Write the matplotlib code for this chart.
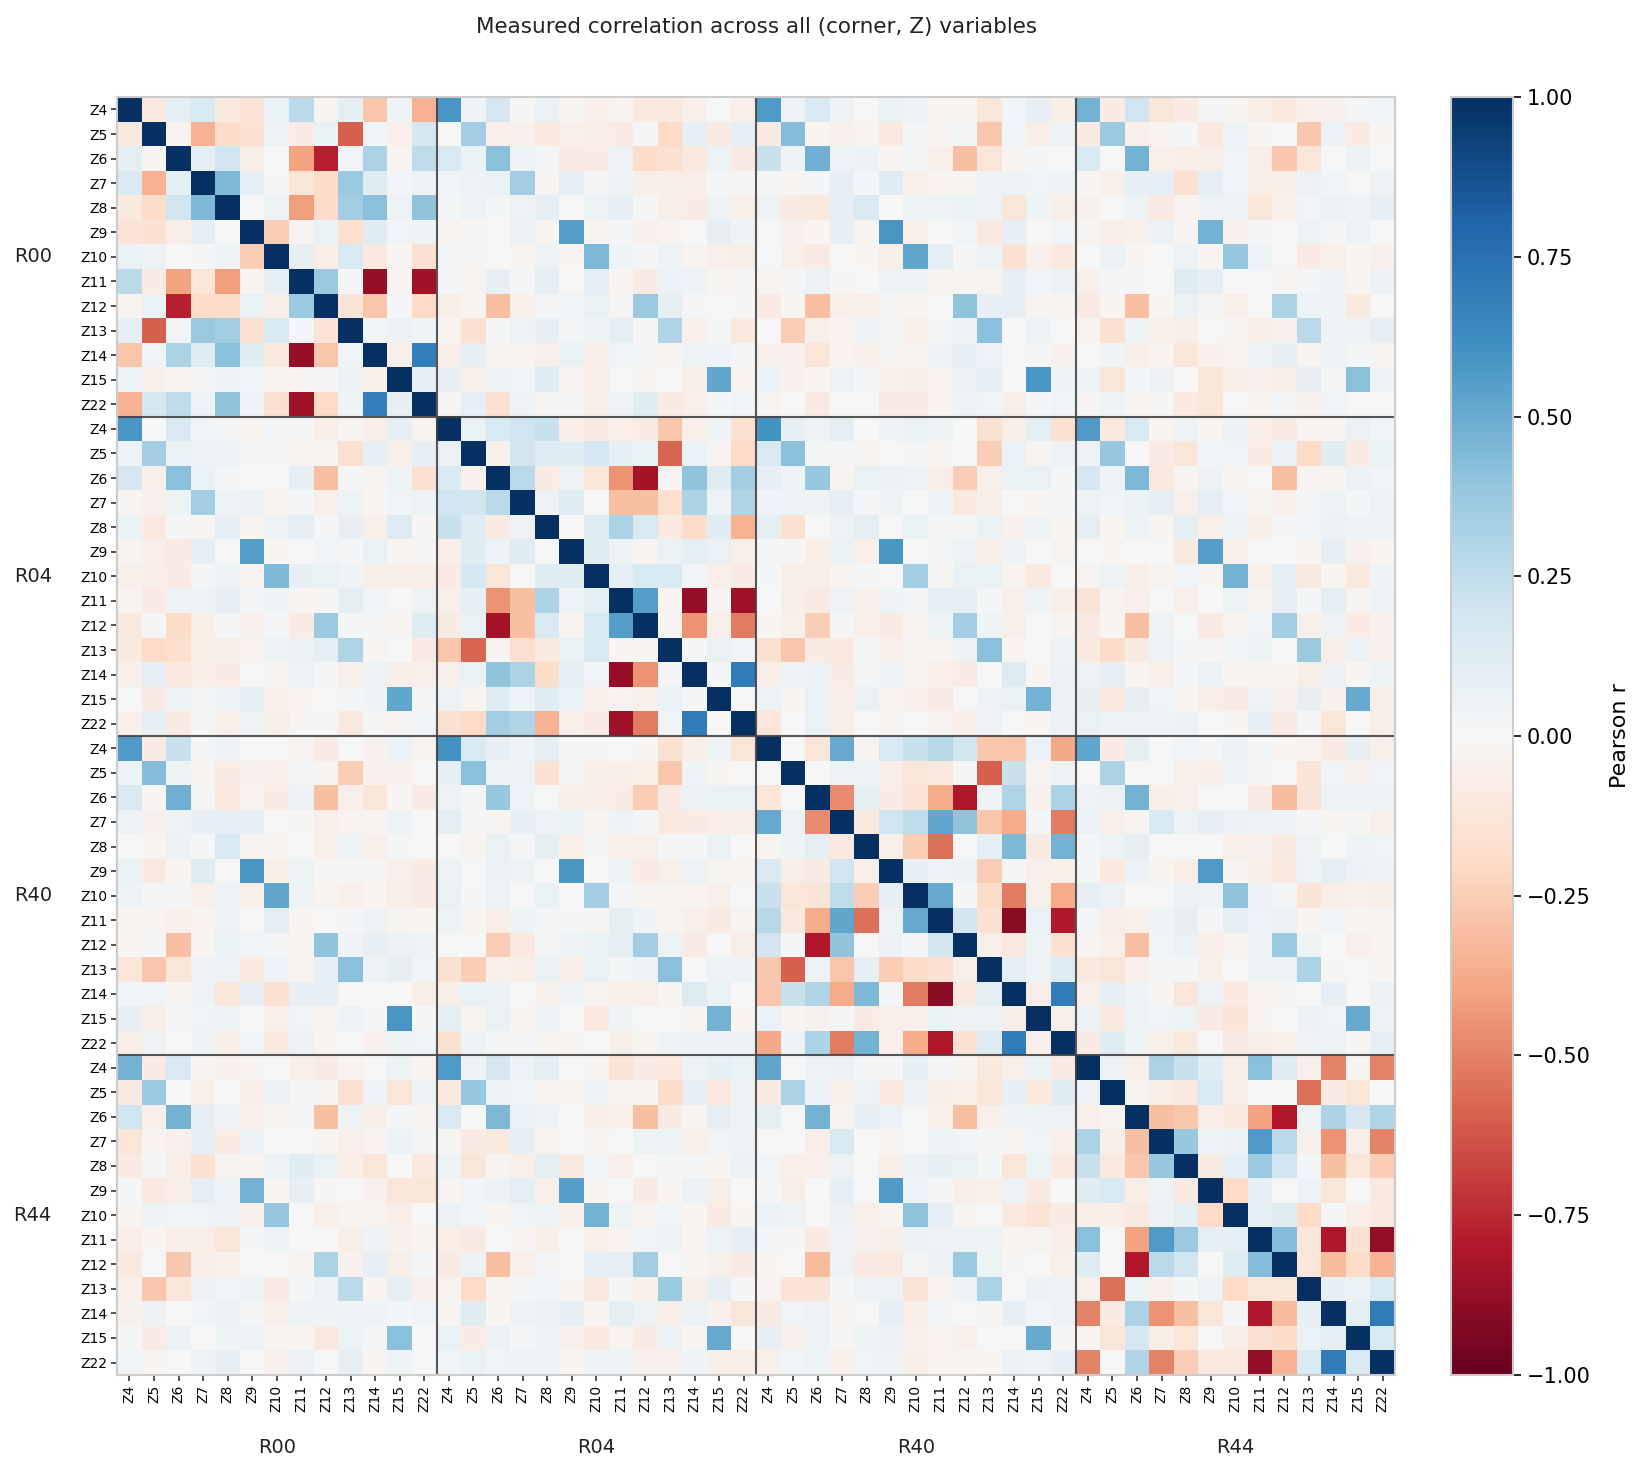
import numpy as np
import matplotlib
matplotlib.use("Agg")
import matplotlib.pyplot as plt

corners = ["R00", "R04", "R40", "R44"]
zterms = ["Z4", "Z5", "Z6", "Z7", "Z8", "Z9", "Z10", "Z11", "Z12", "Z13", "Z14", "Z15", "Z22"]

# within-corner correlations, lower triangle (row i holds cols 0..i-1)
r00_tri = [
    [],
    [-0.10],
    [0.10, -0.03],
    [0.15, -0.35, 0.10],
    [-0.10, -0.18, 0.20, 0.45],
    [-0.13, -0.15, -0.07, 0.10, 0.00],
    [0.07, 0.05, 0.00, 0.02, 0.05, -0.25],
    [0.27, -0.08, -0.40, -0.12, -0.42, -0.03, 0.08],
    [-0.03, 0.07, -0.78, -0.18, -0.18, 0.07, -0.07, 0.37],
    [0.10, -0.60, 0.03, 0.37, 0.35, -0.17, 0.15, 0.02, -0.13],
    [-0.28, 0.03, 0.32, 0.12, 0.42, 0.12, -0.10, -0.87, -0.28, 0.03],
    [0.05, -0.05, -0.03, 0.02, 0.05, 0.03, -0.02, -0.02, 0.02, 0.06, -0.05],
    [-0.35, 0.17, 0.25, 0.05, 0.40, 0.04, -0.15, -0.85, -0.20, 0.04, 0.68, 0.08],
]
r04_tri = [
    [],
    [0.07],
    [0.15, -0.04],
    [0.20, 0.18, 0.27],
    [0.22, 0.13, -0.08, 0.05],
    [-0.07, 0.12, 0.05, 0.12, 0.00],
    [-0.08, 0.17, -0.12, 0.00, 0.12, 0.12],
    [-0.05, 0.08, -0.45, -0.30, 0.32, 0.05, 0.10],
    [-0.08, 0.07, -0.83, -0.30, 0.15, -0.03, 0.15, 0.55],
    [-0.28, -0.58, -0.03, -0.17, -0.10, 0.07, 0.15, -0.02, -0.03],
    [-0.05, 0.07, 0.40, 0.32, -0.18, 0.10, 0.03, -0.87, -0.45, 0.02],
    [0.05, -0.03, 0.12, 0.05, 0.12, 0.07, -0.05, -0.03, -0.05, 0.07, 0.01],
    [-0.15, -0.20, 0.35, 0.30, -0.35, -0.05, -0.08, -0.85, -0.52, 0.03, 0.70, 0.00],
]
r40_tri = [
    [],
    [0.00],
    [-0.12, 0.00],
    [0.50, 0.05, -0.47],
    [-0.03, 0.04, 0.10, -0.10],
    [0.15, -0.07, -0.08, 0.20, -0.05],
    [0.22, -0.12, -0.13, 0.25, -0.25, 0.08],
    [0.28, -0.10, -0.37, 0.52, -0.55, 0.04, 0.50],
    [0.18, 0.02, -0.80, 0.40, 0.00, 0.06, 0.02, 0.18],
    [-0.27, -0.60, 0.05, -0.28, 0.08, -0.25, -0.18, -0.15, -0.05],
    [-0.28, 0.22, 0.30, -0.37, 0.45, 0.02, -0.52, -0.90, -0.10, 0.10],
    [0.07, -0.03, -0.04, 0.02, -0.08, -0.05, -0.05, 0.07, 0.05, 0.05, -0.07],
    [-0.38, 0.05, 0.32, -0.52, 0.47, -0.05, -0.37, -0.80, -0.15, 0.13, 0.70, -0.05],
]
r44_tri = [
    [],
    [0.05],
    [-0.05, -0.03],
    [0.32, -0.07, -0.30],
    [0.22, -0.10, -0.27, 0.38],
    [0.12, 0.15, -0.07, 0.05, -0.08],
    [-0.07, -0.07, -0.10, 0.06, 0.10, -0.20],
    [0.42, 0.00, -0.40, 0.57, 0.37, 0.08, 0.10],
    [0.12, 0.00, -0.80, 0.27, 0.20, 0.00, 0.12, 0.43],
    [-0.05, -0.55, 0.05, -0.04, 0.02, 0.05, -0.20, -0.12, -0.12],
    [-0.50, -0.08, 0.32, -0.45, -0.30, -0.12, 0.02, -0.80, -0.32, 0.08],
    [-0.03, -0.12, 0.17, -0.07, -0.12, 0.00, -0.07, -0.15, -0.18, 0.07, 0.10],
    [-0.50, 0.00, 0.30, -0.50, -0.25, -0.10, -0.10, -0.88, -0.35, 0.15, 0.70, 0.15],
]

# cross-corner correlations: rows = first corner, cols = second corner
r04_r00 = [
    [0.58, 0.00, 0.15, 0.03, 0.02, -0.03, 0.01, 0.01, -0.07, -0.03, -0.07, 0.08, -0.03],
    [0.05, 0.35, 0.07, 0.05, 0.05, -0.01, -0.01, -0.03, -0.03, -0.15, 0.08, -0.05, 0.08],
    [0.17, -0.05, 0.42, 0.07, 0.02, 0.00, 0.00, 0.08, -0.30, 0.02, -0.03, 0.05, -0.15],
    [-0.01, -0.04, 0.05, 0.35, 0.05, 0.06, -0.02, 0.01, -0.05, 0.05, -0.02, 0.03, 0.05],
    [0.07, -0.10, 0.02, -0.02, 0.08, -0.03, 0.05, 0.08, 0.02, 0.08, -0.05, 0.13, -0.01],
    [-0.03, -0.05, -0.08, 0.08, 0.00, 0.55, -0.02, 0.00, 0.03, 0.02, 0.07, -0.02, -0.01],
    [-0.05, -0.06, -0.08, 0.02, 0.05, -0.03, 0.45, 0.08, 0.07, 0.04, -0.07, -0.07, -0.07],
    [-0.03, -0.08, 0.05, 0.05, 0.08, 0.02, 0.04, -0.02, -0.01, 0.10, 0.03, 0.00, 0.05],
    [-0.10, 0.02, -0.18, -0.06, 0.01, -0.04, 0.01, -0.08, 0.37, 0.02, 0.02, -0.03, 0.12],
    [-0.10, -0.20, -0.17, -0.07, -0.06, -0.03, 0.05, 0.06, 0.10, 0.30, -0.03, 0.00, -0.08],
    [-0.05, 0.08, -0.10, -0.07, -0.08, 0.00, -0.03, 0.05, 0.02, -0.05, 0.05, -0.06, -0.05],
    [0.00, -0.08, 0.05, 0.02, 0.04, 0.08, -0.05, -0.02, 0.00, 0.02, 0.04, 0.52, 0.02],
    [-0.05, 0.08, -0.08, -0.01, -0.05, 0.04, -0.06, -0.01, 0.02, -0.10, 0.02, -0.03, 0.03],
]
r40_r00 = [
    [0.57, -0.08, 0.22, 0.02, 0.05, 0.00, 0.00, -0.03, -0.08, 0.00, -0.04, 0.06, -0.03],
    [0.05, 0.43, 0.05, -0.02, -0.08, -0.04, -0.05, 0.02, -0.02, -0.25, -0.04, -0.04, 0.00],
    [0.15, -0.02, 0.48, 0.02, -0.10, -0.02, -0.08, 0.06, -0.30, -0.05, -0.12, -0.02, -0.08],
    [0.05, -0.04, 0.05, 0.08, 0.08, 0.08, 0.00, -0.01, -0.05, -0.03, -0.03, 0.05, 0.00],
    [0.00, -0.03, 0.06, 0.02, 0.15, -0.03, -0.02, 0.00, -0.05, 0.04, -0.05, 0.02, 0.00],
    [0.07, -0.10, -0.02, 0.12, 0.00, 0.58, -0.06, 0.05, -0.01, -0.01, -0.01, -0.05, -0.08],
    [0.05, 0.02, 0.01, -0.05, 0.05, -0.05, 0.52, 0.05, -0.03, -0.05, -0.02, -0.06, -0.08],
    [-0.02, -0.03, -0.05, -0.02, 0.05, 0.00, 0.10, -0.02, 0.00, 0.02, 0.05, -0.03, -0.02],
    [-0.02, 0.02, -0.30, -0.02, 0.07, 0.03, 0.02, -0.03, 0.40, 0.04, 0.08, 0.06, 0.05],
    [-0.12, -0.27, -0.12, 0.05, 0.05, -0.10, 0.05, -0.03, 0.08, 0.42, 0.05, 0.08, 0.03],
    [0.03, 0.03, -0.02, 0.05, -0.12, 0.08, -0.15, 0.08, 0.08, 0.00, 0.00, 0.00, -0.07],
    [0.08, -0.07, 0.02, 0.03, 0.04, 0.00, -0.05, 0.03, -0.03, 0.05, 0.02, 0.58, 0.02],
    [-0.06, 0.05, 0.00, 0.04, -0.06, 0.03, -0.10, 0.06, -0.03, 0.00, -0.04, 0.04, 0.03],
]
r40_r04 = [
    [0.60, 0.15, 0.08, 0.04, 0.10, 0.02, 0.01, 0.00, -0.02, -0.15, -0.07, 0.05, -0.12],
    [0.08, 0.42, 0.04, 0.05, -0.15, -0.01, -0.07, -0.06, -0.05, -0.28, 0.05, -0.02, 0.00],
    [0.05, 0.02, 0.38, 0.05, 0.00, -0.06, -0.06, -0.08, -0.25, -0.08, 0.06, 0.07, 0.07],
    [0.10, 0.02, -0.03, 0.08, 0.05, 0.07, -0.03, 0.05, 0.02, -0.10, -0.08, -0.07, -0.07],
    [0.00, -0.03, 0.07, 0.02, 0.10, -0.05, 0.02, -0.05, -0.05, 0.02, 0.02, 0.07, 0.00],
    [0.05, 0.00, 0.06, 0.05, 0.00, 0.58, 0.00, 0.04, -0.08, -0.05, 0.05, -0.03, -0.03],
    [0.07, 0.02, 0.05, 0.00, 0.07, 0.00, 0.35, 0.02, -0.03, -0.03, -0.03, -0.05, 0.00],
    [0.05, -0.03, -0.07, 0.04, 0.02, 0.02, -0.01, 0.10, 0.04, -0.03, -0.05, -0.08, -0.03],
    [0.00, 0.00, -0.25, -0.10, 0.02, 0.05, 0.07, 0.10, 0.35, 0.05, -0.08, 0.00, -0.07],
    [-0.15, -0.25, -0.05, -0.06, 0.07, -0.07, 0.07, 0.02, 0.04, 0.42, 0.00, 0.05, 0.05],
    [-0.06, 0.07, 0.07, 0.00, -0.04, 0.04, -0.03, -0.05, -0.05, -0.02, 0.13, 0.07, 0.00],
    [0.10, -0.03, 0.07, -0.02, 0.04, 0.00, -0.10, 0.04, 0.00, 0.00, -0.02, 0.47, -0.02],
    [-0.15, 0.05, 0.02, 0.01, -0.02, -0.03, 0.00, -0.06, -0.03, 0.05, 0.06, 0.06, 0.06],
]
r44_r00 = [
    [0.47, -0.08, 0.15, -0.02, -0.04, -0.03, 0.00, -0.05, -0.08, -0.03, 0.00, 0.05, -0.02],
    [-0.08, 0.37, 0.00, -0.05, 0.00, -0.07, 0.06, 0.02, -0.02, -0.15, 0.04, -0.12, 0.04],
    [0.20, -0.05, 0.47, 0.08, 0.04, -0.05, -0.02, 0.02, -0.30, 0.05, -0.07, 0.02, -0.03],
    [-0.12, -0.03, -0.05, 0.08, -0.08, 0.06, 0.00, 0.00, -0.02, -0.05, -0.03, 0.06, 0.02],
    [-0.08, 0.02, -0.07, -0.15, -0.03, -0.03, 0.05, 0.12, 0.07, -0.07, -0.12, 0.00, -0.10],
    [0.02, -0.10, -0.07, 0.10, 0.04, 0.47, -0.02, 0.08, -0.01, 0.00, -0.04, -0.12, -0.12],
    [-0.02, 0.04, 0.03, 0.03, 0.05, -0.04, 0.38, 0.00, -0.05, -0.03, -0.03, -0.07, 0.00],
    [-0.07, -0.02, -0.07, -0.07, -0.12, 0.02, 0.05, 0.00, 0.00, -0.06, 0.04, -0.04, -0.03],
    [-0.10, 0.00, -0.27, -0.06, -0.05, 0.00, 0.00, -0.03, 0.32, -0.04, 0.08, -0.06, 0.02],
    [-0.05, -0.27, -0.12, 0.06, 0.03, 0.05, -0.08, 0.02, 0.05, 0.27, -0.03, 0.08, -0.04],
    [-0.04, 0.06, 0.00, 0.03, 0.06, 0.02, -0.05, 0.04, 0.04, 0.04, 0.04, 0.02, 0.03],
    [0.02, -0.08, 0.06, 0.00, 0.04, 0.05, -0.02, -0.02, -0.10, 0.05, 0.01, 0.42, 0.00],
    [0.03, -0.02, 0.00, 0.05, 0.08, 0.00, -0.04, 0.06, 0.00, 0.08, -0.03, 0.04, 0.00],
]
r44_r04 = [
    [0.57, 0.05, 0.17, 0.05, 0.10, 0.00, -0.03, -0.13, -0.08, -0.10, 0.05, 0.08, 0.07],
    [-0.10, 0.38, 0.05, 0.03, -0.02, -0.02, 0.05, -0.03, -0.02, -0.18, 0.08, -0.10, 0.04],
    [0.15, 0.00, 0.45, 0.07, 0.05, 0.00, -0.07, -0.05, -0.30, -0.08, -0.02, 0.08, 0.04],
    [-0.03, -0.08, -0.10, 0.08, -0.03, 0.00, -0.03, 0.00, 0.05, 0.05, -0.05, 0.03, 0.04],
    [0.05, -0.12, -0.03, -0.05, 0.10, -0.10, 0.03, -0.05, 0.00, 0.02, 0.02, -0.02, 0.06],
    [-0.02, 0.03, 0.06, 0.10, -0.05, 0.55, -0.02, 0.00, -0.08, -0.01, 0.06, -0.06, 0.00],
    [0.06, 0.03, -0.02, 0.03, 0.05, -0.05, 0.47, 0.05, -0.03, 0.03, -0.02, -0.08, -0.02],
    [-0.07, -0.08, 0.00, -0.03, -0.06, 0.00, -0.05, -0.03, 0.03, 0.05, -0.02, 0.05, 0.08],
    [-0.08, 0.06, -0.30, -0.05, 0.02, 0.00, 0.10, 0.08, 0.35, 0.00, -0.02, -0.04, -0.08],
    [-0.03, -0.20, -0.03, 0.01, 0.03, -0.02, -0.10, 0.02, -0.05, 0.37, -0.06, 0.08, 0.02],
    [-0.02, 0.12, -0.02, 0.05, 0.06, 0.08, -0.02, 0.10, 0.05, -0.07, 0.06, -0.04, -0.12],
    [0.07, -0.08, 0.06, 0.02, 0.04, -0.04, -0.10, -0.03, -0.08, 0.06, -0.02, 0.50, 0.00],
    [0.03, 0.07, 0.03, 0.05, 0.05, -0.02, 0.04, 0.05, -0.04, -0.04, 0.04, -0.06, -0.06],
]
r44_r40 = [
    [0.52, 0.00, 0.05, 0.06, 0.01, 0.02, 0.08, 0.02, -0.02, -0.10, -0.05, 0.06, -0.08],
    [-0.08, 0.32, 0.06, -0.05, 0.05, -0.10, 0.06, -0.07, -0.05, -0.12, 0.08, -0.10, 0.12],
    [0.10, 0.00, 0.47, -0.03, 0.08, 0.06, 0.00, -0.05, -0.30, -0.05, 0.04, 0.05, 0.05],
    [0.00, 0.00, -0.07, 0.15, 0.00, -0.03, 0.00, 0.04, 0.03, 0.01, -0.02, 0.03, -0.05],
    [0.03, -0.05, -0.05, 0.05, 0.00, -0.07, 0.06, 0.08, 0.07, 0.02, -0.12, 0.05, -0.10],
    [0.02, -0.07, 0.00, 0.08, 0.00, 0.57, 0.05, 0.02, -0.07, -0.05, 0.05, -0.08, 0.00],
    [0.06, 0.05, 0.00, 0.06, -0.05, -0.03, 0.40, 0.08, -0.03, 0.00, -0.10, -0.13, -0.08],
    [0.02, -0.01, -0.08, 0.05, -0.04, -0.06, 0.06, 0.05, 0.05, 0.05, -0.03, -0.03, -0.07],
    [-0.02, 0.00, -0.32, 0.05, -0.08, -0.10, 0.02, 0.06, 0.37, 0.05, -0.01, 0.00, -0.05],
    [-0.03, -0.13, -0.13, 0.02, 0.05, 0.05, -0.13, -0.02, 0.05, 0.32, 0.00, 0.06, 0.05],
    [-0.08, 0.03, 0.05, -0.02, 0.00, 0.10, -0.07, 0.03, 0.00, -0.01, 0.08, 0.03, 0.05],
    [0.08, -0.04, 0.05, -0.01, 0.04, 0.06, -0.05, -0.02, -0.05, 0.00, 0.00, 0.50, -0.01],
    [-0.05, 0.03, 0.05, -0.05, 0.03, 0.05, -0.06, -0.03, -0.03, -0.02, 0.06, 0.05, 0.08],
]

nz = len(zterms)
nc = len(corners)
n = nz * nc
corr = np.eye(n)

for b, tri in enumerate([r00_tri, r04_tri, r40_tri, r44_tri]):
    for i, row in enumerate(tri):
        for j, v in enumerate(row):
            corr[b * nz + i, b * nz + j] = v
            corr[b * nz + j, b * nz + i] = v

cross = {(1, 0): r04_r00, (2, 0): r40_r00, (2, 1): r40_r04,
         (3, 0): r44_r00, (3, 1): r44_r04, (3, 2): r44_r40}
for (bi, bj), blk in cross.items():
    blk = np.array(blk)
    corr[bi * nz:(bi + 1) * nz, bj * nz:(bj + 1) * nz] = blk
    corr[bj * nz:(bj + 1) * nz, bi * nz:(bi + 1) * nz] = blk.T

# --- plot ---
fig = plt.figure(figsize=(16.49, 14.72), dpi=100)
ax = fig.add_axes([0.071, 0.066, 0.775, 0.868])
cax = fig.add_axes([0.880, 0.066, 0.0376, 0.868])

# blue = positive, red = negative
im = ax.imshow(corr, cmap="RdBu", vmin=-1, vmax=1, aspect="auto",
               interpolation="nearest")

labels = zterms * nc
ax.set_xticks(np.arange(n))
ax.set_yticks(np.arange(n))
ax.set_xticklabels(labels, rotation=90, fontsize=10)
ax.set_yticklabels(labels, fontsize=10)
ax.tick_params(length=4, width=1.2, color="#333333", pad=3)

for k in range(1, nc):
    ax.axhline(k * nz - 0.5, color="#444444", lw=1.5, alpha=0.9)
    ax.axvline(k * nz - 0.5, color="#444444", lw=1.5, alpha=0.9)

for s in ax.spines.values():
    s.set_color("#cccccc")
    s.set_linewidth(1.5)

for k, c in enumerate(corners):
    mid = k * nz + (nz - 1) / 2
    ax.text(-0.066, mid, c, transform=ax.get_yaxis_transform(),
            ha="center", va="center", fontsize=14, color="#222222")
    ax.text(mid, -0.057, c, transform=ax.get_xaxis_transform(),
            ha="center", va="center", fontsize=14, color="#222222")

ax.set_title("Measured correlation across all (corner, Z) variables",
             fontsize=15.5, pad=46, color="#222222")

ticks = np.linspace(-1, 1, 9)
cb = fig.colorbar(im, cax=cax, ticks=ticks)
cb.ax.set_yticklabels([f"{t:.2f}".replace("-", "\u2212") for t in ticks])
cb.ax.tick_params(labelsize=15, length=6, width=1.2)
cb.outline.set_edgecolor("#cccccc")
cb.outline.set_linewidth(1.5)
cb.set_label("Pearson r", fontsize=16, labelpad=14)

fig.savefig("out.png", dpi=100)
